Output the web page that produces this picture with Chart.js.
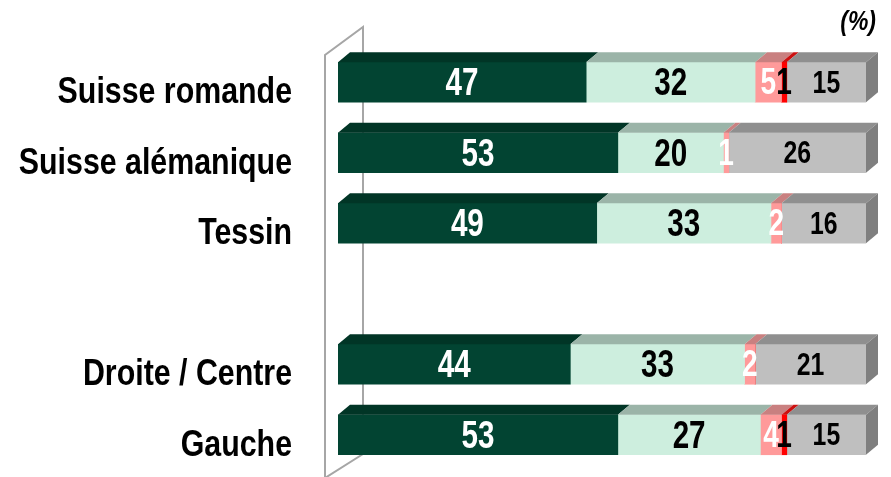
<!DOCTYPE html>
<html>
<head>
<meta charset="utf-8">
<script src="https://cdn.jsdelivr.net/npm/chart.js@4"></script>
<style>
html,body{margin:0;padding:0;background:#fff;}
#wrap{width:891px;height:477px;position:relative;}
</style>
</head>
<body>
<div id="wrap"><canvas id="c"></canvas></div>
<script>
const categories = ['Suisse romande', 'Suisse alémanique', 'Tessin', '', 'Droite / Centre', 'Gauche'];
const seriesNames = ['Série 1', 'Série 2', 'Série 3', 'Série 4', 'Série 5'];
const series1 = [47, 53, 49, null, 44, 53];
const series2 = [32, 20, 33, null, 33, 27];
const series3 = [5, 1, 2, null, 2, 4];
const series4 = [1, 0, 0, null, 0, 1];
const series5 = [15, 26, 16, null, 21, 15];
const unitLabel = '(%)';

const FONT = '"Liberation Sans", Arial, sans-serif';
const frontColors = ['#024432', '#CDEEDE', '#FF9A9A', '#FF0000', '#BFBFBF'];
const topColors = ['#013526', '#9BB4A8', '#C98080', '#CC1010', '#8F8F8F'];
const sideColor = '#7F7F7F';
const labelColors = ['#FFFFFF', '#000000', '#FFFFFF', '#000000', '#000000'];
const labelSizes = [39, 39, 36, 36, 31];
const labelScales = [0.76, 0.76, 0.78, 0.78, 0.8];
const DX = 12, DY = -10;

function narrowText(ctx, text, x, y, align, font, sx) {
  ctx.save();
  ctx.translate(x, y);
  ctx.scale(sx, 1);
  ctx.font = font;
  ctx.textAlign = align;
  ctx.textBaseline = 'middle';
  ctx.fillText(text, 0, 0);
  ctx.restore();
}

const threeD = {
  id: 'threeD',
  beforeDatasetsDraw(chart) {
    const ctx = chart.ctx;
    const a = chart.chartArea;
    ctx.save();
    ctx.strokeStyle = '#A6A6A6';
    ctx.lineWidth = 2;
    const fx = a.left - 13, bx = a.left + 25;
    ctx.beginPath();
    ctx.moveTo(fx, chart.height + 2);
    ctx.lineTo(fx, a.top + 8);
    ctx.lineTo(bx, a.top - 20);
    ctx.lineTo(bx, a.bottom - 16);
    ctx.lineTo(fx, a.bottom + 8);
    ctx.stroke();
    ctx.restore();
  },
  afterDatasetsDraw(chart) {
    const ctx = chart.ctx;
    ctx.save();
    const n = chart.data.datasets.length;
    for (let d = 0; d < n; d++) {
      const meta = chart.getDatasetMeta(d);
      meta.data.forEach((bar, i) => {
        const v = chart.data.datasets[d].data[i];
        if (v === null || v === 0) return;
        const p = bar.getProps(['x', 'y', 'base', 'height'], true);
        const x0 = Math.min(p.base, p.x), x1 = Math.max(p.base, p.x);
        const yt = p.y - p.height / 2, yb = p.y + p.height / 2;
        ctx.fillStyle = topColors[d];
        ctx.beginPath();
        ctx.moveTo(x0, yt);
        ctx.lineTo(x1, yt);
        ctx.lineTo(x1 + DX, yt + DY);
        ctx.lineTo(x0 + DX, yt + DY);
        ctx.closePath();
        ctx.fill();
        if (d === n - 1) {
          ctx.fillStyle = sideColor;
          ctx.beginPath();
          ctx.moveTo(x1, yt);
          ctx.lineTo(x1 + DX, yt + DY);
          ctx.lineTo(x1 + DX, yb + DY);
          ctx.lineTo(x1, yb);
          ctx.closePath();
          ctx.fill();
        }
      });
    }
    for (let d = 0; d < n; d++) {
      const meta = chart.getDatasetMeta(d);
      meta.data.forEach((bar, i) => {
        const v = chart.data.datasets[d].data[i];
        if (v === null || v === 0) return;
        const p = bar.getProps(['x', 'y', 'base'], true);
        ctx.fillStyle = labelColors[d];
        narrowText(ctx, String(v), (p.x + p.base) / 2, p.y + 2, 'center',
          'bold ' + labelSizes[d] + 'px ' + FONT, labelScales[d]);
      });
    }
    const ys = chart.scales.y;
    ctx.fillStyle = '#000';
    categories.forEach((c, i) => {
      if (!c) return;
      narrowText(ctx, c, chart.chartArea.left - 46, ys.getPixelForValue(i) + 11, 'right',
        'bold 37px ' + FONT, 0.82);
    });
    narrowText(ctx, unitLabel, chart.chartArea.right + 10, 22, 'right',
      'italic bold 28px ' + FONT, 0.82);
    ctx.restore();
  }
};

const seriesValues = [series1, series2, series3, series4, series5];
new Chart(document.getElementById('c'), {
  type: 'bar',
  data: {
    labels: categories,
    datasets: seriesValues.map((vals, k) => ({
      label: seriesNames[k],
      data: vals,
      backgroundColor: frontColors[k],
      borderWidth: 0,
      barThickness: 40
    }))
  },
  options: {
    indexAxis: 'y',
    responsive: true,
    maintainAspectRatio: false,
    animation: false,
    layout: { padding: { left: 0, right: 25, top: 47, bottom: 7 } },
    plugins: { legend: { display: false }, tooltip: { enabled: false } },
    scales: {
      x: { stacked: true, min: 0, max: 100, display: false },
      y: {
        stacked: true,
        grid: { display: false, drawTicks: false },
        border: { display: false },
        ticks: { display: false },
        afterFit(scale) {
          scale.width = 338;
          scale.paddingTop = 0;
          scale.paddingBottom = 0;
        }
      }
    }
  },
  plugins: [threeD]
});
</script>
</body>
</html>
